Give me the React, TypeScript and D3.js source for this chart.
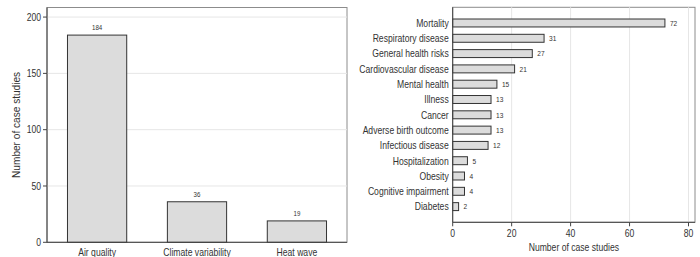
import React from "react";
import * as d3 from "d3";

const leftCategories = ["Air quality", "Climate variability", "Heat wave"];
const leftValues = [184, 36, 19];
const leftTicks = [0, 50, 100, 150, 200];

const rightCategories = [
  "Mortality",
  "Respiratory disease",
  "General health risks",
  "Cardiovascular disease",
  "Mental health",
  "Illness",
  "Cancer",
  "Adverse birth outcome",
  "Infectious disease",
  "Hospitalization",
  "Obesity",
  "Cognitive impairment",
  "Diabetes",
];
const rightValues = [72, 31, 27, 21, 15, 13, 13, 13, 12, 5, 4, 4, 2];
const rightTicks = [0, 20, 40, 60, 80];

const axisTitle = "Number of case studies";

const FONT = "'Liberation Sans', Arial, sans-serif";
const BAR_FILL = "#dcdcdc";
const BAR_STROKE = "#333333";
const GRID = "#e6e6e6";
const TEXT = "#333333";
const SX = 0.82;

function T(props: { x: number; y: number; size: number; anchor?: string; rotate?: boolean; children: any }) {
  const { x, y, size, anchor = "start", rotate = false, children } = props;
  const tr = rotate
    ? `translate(${x},${y}) rotate(-90)`
    : `translate(${x},${y}) scale(${SX},1)`;
  return (
    <text transform={tr} fontSize={size} fill={TEXT} textAnchor={anchor as any}>
      {children}
    </text>
  );
}

export default function App() {
  // Left panel
  const lx0 = 47, lx1 = 347, ly0 = 7.5, ly1 = 242.3;
  const xL = d3.scaleBand<string>().domain(leftCategories).range([lx0, lx1]).paddingInner(0.407).paddingOuter(0.205);
  const yL = d3.scaleLinear().domain([0, 208.5]).range([ly1, ly0]);

  // Right panel
  const rx0 = 452.7, rx1 = 695, ry0 = 7.3, ry1 = 222.3;
  const xR = d3.scaleLinear().domain([0, 80]).range([452.7, 688.5]);
  const yR = d3.scaleBand<string>().domain(rightCategories).range([ry0, ry1]).paddingInner(0.48).paddingOuter(0.765);

  return (
    <svg
      width={700}
      height={257}
      style={{ position: "absolute", left: 0, top: 0, background: "#fff" }}
      fontFamily={FONT}
    >
      {/* LEFT PANEL */}
      <rect x={lx0} y={ly0} width={lx1 - lx0} height={ly1 - ly0} fill="#fff" stroke="#8c8c8c" strokeWidth={1} />
      {leftTicks.filter((t) => t > 0).map((t) => (
        <line key={"lg" + t} x1={lx0} x2={lx1} y1={yL(t)} y2={yL(t)} stroke={GRID} strokeWidth={1} />
      ))}
      {leftCategories.map((c, i) => (
        <g key={c}>
          <rect
            x={xL(c)!}
            y={yL(leftValues[i])}
            width={xL.bandwidth()}
            height={yL(0) - yL(leftValues[i])}
            fill={BAR_FILL}
            stroke={BAR_STROKE}
            strokeWidth={1}
          />
          <T x={xL(c)! + xL.bandwidth() / 2} y={yL(leftValues[i]) - 5} size={7.5} anchor="middle">
            {leftValues[i]}
          </T>
          <T x={xL(c)! + xL.bandwidth() / 2} y={256} size={10.5} anchor="middle">
            {c}
          </T>
        </g>
      ))}
      <line x1={lx0} x2={lx0} y1={ly0} y2={ly1} stroke="#444" strokeWidth={1} />
      <line x1={lx0} x2={lx1} y1={ly1} y2={ly1} stroke="#444" strokeWidth={1} />
      {leftTicks.map((t) => (
        <g key={"lt" + t}>
          <line x1={lx0 - 4} x2={lx0} y1={yL(t)} y2={yL(t)} stroke="#444" />
          <T x={lx0 - 6} y={yL(t) + 3.8} size={10.5} anchor="end">
            {t}
          </T>
        </g>
      ))}
      <T x={19.8} y={(ly0 + ly1) / 2} size={10.1} anchor="middle" rotate>
        {axisTitle}
      </T>

      {/* RIGHT PANEL */}
      <rect x={rx0} y={ry0} width={rx1 - rx0} height={ry1 - ry0} fill="#fff" stroke="#8c8c8c" strokeWidth={1} />
      {rightTicks.filter((t) => t > 0).map((t) => (
        <line key={"rg" + t} x1={xR(t)} x2={xR(t)} y1={ry0} y2={ry1} stroke={GRID} strokeWidth={1} />
      ))}
      {rightCategories.map((c, i) => (
        <g key={c}>
          <rect
            x={xR(0)}
            y={yR(c)!}
            width={xR(rightValues[i]) - xR(0)}
            height={yR.bandwidth()}
            fill={BAR_FILL}
            stroke={BAR_STROKE}
            strokeWidth={1}
          />
          <T x={xR(rightValues[i]) + 5} y={yR(c)! + yR.bandwidth() / 2 + 2.8} size={8}>
            {rightValues[i]}
          </T>
          <T x={rx0 - 4} y={yR(c)! + yR.bandwidth() / 2 + 3.8} size={10.5} anchor="end">
            {c}
          </T>
        </g>
      ))}
      <line x1={rx0} x2={rx0} y1={ry0} y2={ry1} stroke="#444" strokeWidth={1} />
      <line x1={rx0} x2={rx1} y1={ry1} y2={ry1} stroke="#444" strokeWidth={1} />
      {rightTicks.map((t) => (
        <g key={"rt" + t}>
          <line x1={xR(t)} x2={xR(t)} y1={ry1} y2={ry1 + 4} stroke="#444" />
          <T x={xR(t)} y={ry1 + 14.5} size={10.5} anchor="middle">
            {t}
          </T>
        </g>
      ))}
      <T x={(rx0 + rx1) / 2} y={250.5} size={10.5} anchor="middle">
        {axisTitle}
      </T>
    </svg>
  );
}
